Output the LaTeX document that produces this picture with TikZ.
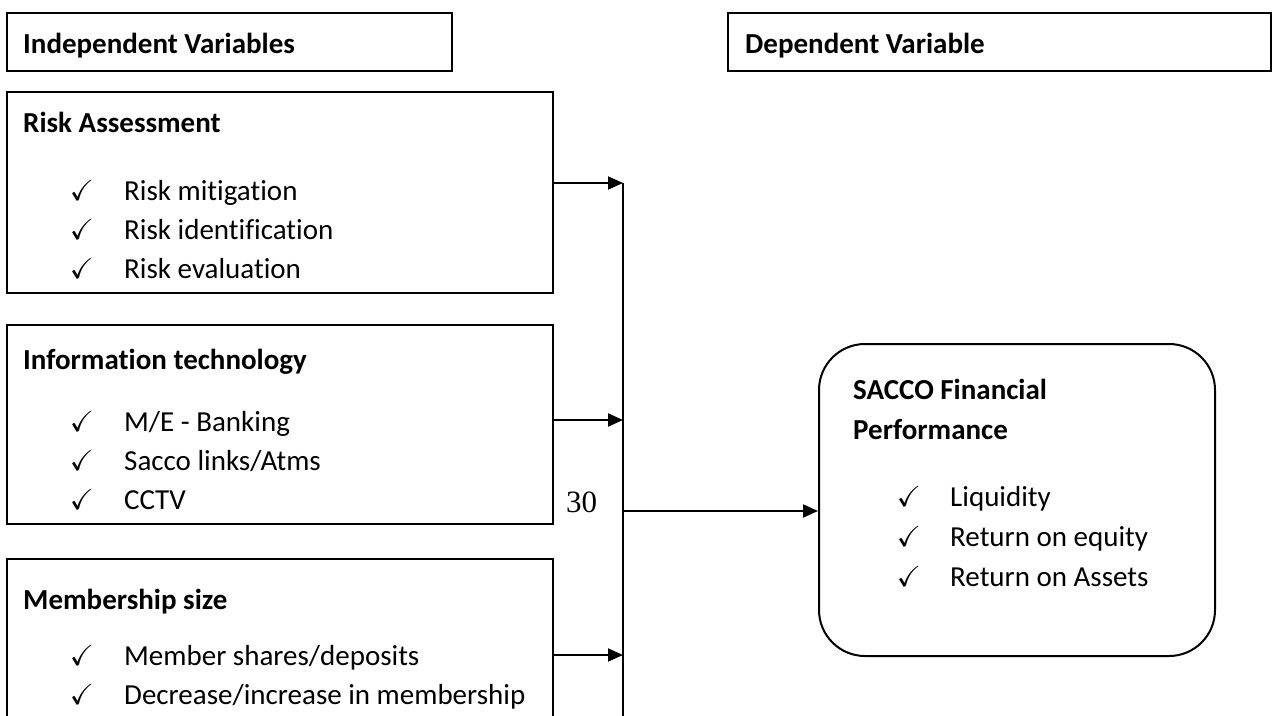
\documentclass[tikz,border=0pt]{standalone}
\usepackage{amssymb}
\usepackage{fontspec}
\setmainfont{Carlito}[Ligatures=NoCommon]
\newfontfamily\numfont{Liberation Serif}
\usepackage{tikz}
\usetikzlibrary{arrows.meta,positioning}
\tikzstyle{box}=[draw,line width=2pt,rectangle,inner sep=0pt,anchor=north west]
\tikzstyle{round box}=[box,rounded corners=46pt]
\tikzstyle{head}=[anchor=base west,inner sep=0pt,font=\fontsize{29}{34}\selectfont\bfseries]
\tikzstyle{item}=[anchor=base west,inner sep=0pt,font=\fontsize{29}{34}\selectfont]
\tikzstyle{tick}=[anchor=base,inner sep=0pt,font=\fontsize{29}{34}\selectfont]
\tikzstyle{bus}=[draw,line width=2pt]
\tikzstyle{link}=[bus,-{Triangle[length=15pt,width=13pt]}]

\begin{document}
\begin{tikzpicture}[x=1pt,y=-1pt]
    \clip (0,0) rectangle (1276,715);
    % First the boxes
    \node[box,minimum width=445pt,minimum height=58pt] (indep) at (6,12) {};
    \node[box,minimum width=543pt,minimum height=58pt] (dep) at (727,12) {};
    \node[box,minimum width=546pt,minimum height=201pt] (risk) at (6,91) {};
    \node[box,minimum width=546pt,minimum height=199pt] (tech) at (6,324) {};
    \node[box,minimum width=546pt,minimum height=200pt] (member) at (6,558) {};
    \node[round box,minimum width=396pt,minimum height=312pt] (sacco) at (818,343) {};

    % Headings
    \node[head] (indeptxt) at (23,53) {Independent Variables};
    \node[head] (deptxt) at (745,53) {Dependent Variable};
    \node[head] (risktxt) at (23,132) {Risk Assessment};
    \node[head] (techtxt) at (23,369) {Information technology};
    \node[head] (membertxt) at (23,609) {Membership size};
    \node[head] (saccotxt) at (853,399) {SACCO Financial};
    \node[head] (saccotxt2) at (853,439) {Performance};

    % Ticked items in each box
    \foreach \y/\txt [count=\i] in {200/{Risk mitigation}, 239/{Risk identification}, 278/{Risk evaluation}}{
        \node[tick] (rc\i) at (82,\y) {$\checkmark$};
        \node[item] (ri\i) at (124,\y) {\txt};
    }
    \foreach \y/\txt [count=\i] in {431/{M/E - Banking}, 470/{Sacco links/Atms}, 509/{CCTV}}{
        \node[tick] (tc\i) at (82,\y) {$\checkmark$};
        \node[item] (ti\i) at (124,\y) {\txt};
    }
    \foreach \y/\txt [count=\i] in {665/{Member shares/deposits}, 704/{Decrease/increase in membership}}{
        \node[tick] (mc\i) at (82,\y) {$\checkmark$};
        \node[item] (mi\i) at (124,\y) {\txt};
    }
    \foreach \y/\txt [count=\i] in {506/{Liquidity}, 546/{Return on equity}, 586/{Return on Assets}}{
        \node[tick] (sc\i) at (909,\y) {$\checkmark$};
        \node[item] (si\i) at (950,\y) {\txt};
    }

    \node[anchor=base west,inner sep=0pt,font=\fontsize{31}{36}\numfont] (page) at (566,512) {30};

    % Joints on the bus line
    \coordinate (j1) at (623,183);
    \coordinate (j2) at (623,420);
    \coordinate (j3) at (623,655);
    \coordinate (jout) at (623,511);
    \coordinate (jend) at (623,730);

    % Connect the boxes
    \path[bus] (j1) -- (jend);
    \foreach \src/\dest in {risk/j1, tech/j2, member/j3}
        \path[link] (\src.east |- \dest) -- (\dest);
    \path[link] (jout) -- (sacco.west |- jout);
\end{tikzpicture}
\end{document}
